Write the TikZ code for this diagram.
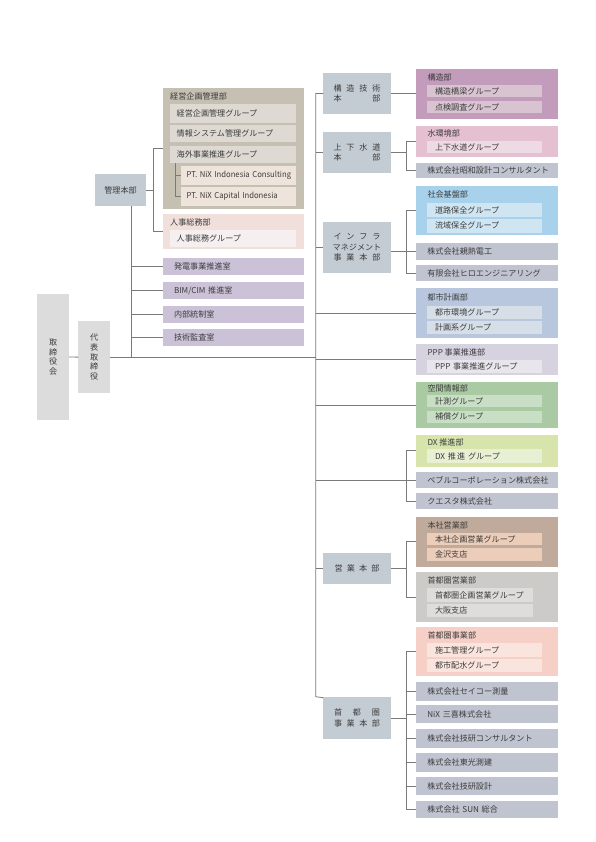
\documentclass[tikz,border=0pt]{standalone}
\usepackage{fontspec}
\setmainfont{Noto Sans CJK JP}
\usepackage{graphicx}
\definecolor{txtc}{HTML}{3C3C3C}
\definecolor{lnc}{HTML}{7A7A7A}
\definecolor{boardc}{HTML}{DCDCDC}
\definecolor{hqc}{HTML}{C3CCD3}
\definecolor{tanc}{HTML}{C6C0B3}
\definecolor{tanin}{HTML}{DEDAD3}
\definecolor{creamc}{HTML}{EFE4DB}
\definecolor{pinkc}{HTML}{F1DFDB}
\definecolor{pinkin}{HTML}{F5F0EF}
\definecolor{roomc}{HTML}{CCC2D8}
\definecolor{mauvec}{HTML}{C29CBA}
\definecolor{mauvein}{HTML}{D8C4D0}
\definecolor{rosec}{HTML}{E4C0D0}
\definecolor{rosein}{HTML}{EEDAE3}
\definecolor{compc}{HTML}{C0C3D0}
\definecolor{skyc}{HTML}{A8D2EB}
\definecolor{skyin}{HTML}{CFE5F1}
\definecolor{steelc}{HTML}{B8C7DD}
\definecolor{steelin}{HTML}{D6DEE8}
\definecolor{lavc}{HTML}{D7D2DF}
\definecolor{lavin}{HTML}{E8E5ED}
\definecolor{greenc}{HTML}{AACAA3}
\definecolor{greenin}{HTML}{C9DFC5}
\definecolor{limec}{HTML}{D7E5AD}
\definecolor{limein}{HTML}{E8F0D3}
\definecolor{brownc}{HTML}{C0AA9B}
\definecolor{peachc}{HTML}{ECCDB9}
\definecolor{greyc}{HTML}{CCCBC7}
\definecolor{greyin}{HTML}{DEDDDB}
\definecolor{salmonc}{HTML}{F6D0C7}
\definecolor{salmonin}{HTML}{F9E5DE}

\begin{document}
\begin{tikzpicture}[x=1pt,y=-1pt,font=\fontsize{8.1}{10}\selectfont,text=txtc,
  base/.style={anchor=north west,inner sep=0pt,outer sep=0pt},
  board/.style={base,fill=boardc,minimum width=31.7pt,align=center,font=\fontsize{8.1}{9.6}\selectfont},
  hq/.style={base,fill=hqc,minimum width=67.4pt,align=center,font=\fontsize{8.1}{10.5}\selectfont},
  dept/.style={base,fill=#1,minimum width=141.7pt},
  ttl/.style={anchor=west,inner sep=0pt},
  grp/.style={base,fill=#1,minimum width=114.4pt,minimum height=13pt,text width=99pt,inner xsep=7.7pt,align=left},
  lgrp/.style={base,fill=#1,minimum width=126pt,minimum height=17.5pt,text width=112.6pt,inner xsep=6.7pt,align=left},
  ptbox/.style={base,fill=creamc,minimum width=115.3pt,minimum height=18.8pt,text width=103.3pt,inner xsep=6pt,align=left},
  comp/.style={base,fill=#1,minimum width=141.7pt,minimum height=17pt,text width=119pt,inner xsep=11.3pt,align=left},
  comp/.default=compc,
  conn/.style={draw=lnc,line width=0.8pt}]
\useasboundingbox (0,0) rectangle (595,842);

% board and management
\node[board,minimum height=126pt] (torishimari) at (37.3,294) {取\\締\\役\\会};
\node[board,minimum height=72.3pt] (daihyo) at (78.3,321) {代\\表\\取\\締\\役};
\node[hq,minimum width=51pt,minimum height=31.7pt] (kanri) at (95,174.3) {管理本部};

\node[dept=tanc,minimum width=141.3pt,minimum height=121pt] (keiei) at (162.7,88.3) {};
\node[ttl] (keieiT) at (170,96.3) {経営企画管理部};
\node[lgrp=tanin,minimum height=18.4pt] (keiei1) at (170,104.3) {経営企画管理グループ};
\node[lgrp=tanin] (keiei2) at (170,125) {情報システム管理グループ};
\node[lgrp=tanin,minimum height=17pt] (keiei3) at (170,145.7) {海外事業推進グループ};
\node[ptbox] (pt1) at (180.7,166) {\scalebox{0.95}[1]{PT. NiX Indonesia Consulting}};
\node[ptbox] (pt2) at (180.7,187.3) {\scalebox{0.95}[1]{PT. NiX Capital Indonesia}};

\node[dept=pinkc,minimum width=141.3pt,minimum height=35.3pt] (jinji) at (162.7,214) {};
\node[ttl] (jinjiT) at (170,222) {人事総務部};
\node[lgrp=pinkin,minimum height=16.7pt] (jinji1) at (170,230) {人事総務グループ};

\node[comp=roomc,minimum width=141.3pt] (hatsuden) at (162.7,258.3) {発電事業推進室};
\node[comp=roomc,minimum width=141.3pt] (bimcim) at (162.7,282.3) {BIM/CIM 推進室};
\node[comp=roomc,minimum width=141.3pt] (naibu) at (162.7,306) {内部統制室};
\node[comp=roomc,minimum width=141.3pt] (kansa) at (162.7,329.3) {技術監査室};

% headquarters
\node[hq,minimum height=41.6pt] (kozoHQ) at (323.3,72.7) {\makebox[47pt]{構\hfill 造\hfill 技\hfill 術}\\\makebox[47pt]{本\hfill 部}};
\node[hq,minimum height=41.6pt] (josuiHQ) at (323.3,131.7) {\makebox[47pt]{上\hfill 下\hfill 水\hfill 道}\\\makebox[47pt]{本\hfill 部}};
\node[hq,minimum height=51pt] (infraHQ) at (323.3,221.7) {\makebox[47pt]{イ\hfill ン\hfill フ\hfill ラ}\\マネジメント\\\makebox[47pt]{事\hfill 業\hfill 本\hfill 部}};
\node[hq,minimum height=31pt] (eigyoHQ) at (323.3,553.3) {\makebox[45pt]{営\hfill 業\hfill 本\hfill 部}};
\node[hq,minimum height=42.6pt] (shutoHQ) at (323.3,696.7) {\makebox[46pt]{首\hfill 都\hfill 圏}\\\makebox[46pt]{事\hfill 業\hfill 本\hfill 部}};

% departments and companies
\node[dept=mauvec,minimum height=50pt] (kozo) at (416,69.3) {};
\node[ttl] (kozoT) at (427.3,77.2) {構造部};
\node[grp=mauvein,minimum height=12.3pt] (kozo1) at (427.3,85) {構造橋梁グループ};
\node[grp=mauvein,minimum height=12.3pt] (kozo2) at (427.3,101) {点検調査グループ};

\node[dept=rosec,minimum height=31pt] (mizu) at (416,125.7) {};
\node[ttl] (mizuT) at (427.3,133.2) {水環境部};
\node[grp=rosein,minimum height=12.6pt] (mizu1) at (427.3,140.7) {上下水道グループ};
\node[comp,minimum height=14.6pt] (showa) at (416,163.3) {株式会社昭和設計コンサルタント};

\node[dept=skyc,minimum height=49pt] (shakai) at (416,186) {};
\node[ttl] (shakaiT) at (427.3,194.7) {社会基盤部};
\node[grp=skyin,minimum height=13.4pt] (shakai1) at (427.3,203.3) {道路保全グループ};
\node[grp=skyin,minimum height=13.7pt] (shakai2) at (427.3,219) {流域保全グループ};
\node[comp,minimum height=16.5pt] (shinnetsu) at (416,243) {株式会社親熱電工};
\node[comp,minimum height=16pt] (hiro) at (416,265) {有限会社ヒロエンジニアリング};

\node[dept=steelc,minimum height=49.4pt] (toshi) at (416,288.3) {};
\node[ttl] (toshiT) at (427.3,297.2) {都市計画部};
\node[grp=steelin,minimum height=13.3pt] (toshi1) at (427.3,306) {都市環境グループ};
\node[grp=steelin,minimum height=13.3pt] (toshi2) at (427.3,321) {計画系グループ};

\node[dept=lavc,minimum height=30.7pt] (ppp) at (416,344.3) {};
\node[ttl] (pppT) at (427.3,352.3) {PPP 事業推進部};
\node[grp=lavin,minimum height=12.5pt] (ppp1) at (427.3,360) {PPP 事業推進グループ};

\node[dept=greenc,minimum height=46.6pt] (kukan) at (416,381.7) {};
\node[ttl] (kukanT) at (427.3,388.3) {空間情報部};
\node[grp=greenin,minimum height=12.3pt] (kukan1) at (427.3,395) {計測グループ};
\node[grp=greenin,minimum height=12.3pt] (kukan2) at (427.3,410.7) {補償グループ};

\node[dept=limec,minimum height=31.7pt] (dx) at (416,435) {};
\node[ttl] (dxT) at (427.3,442.2) {DX 推進部};
\node[grp=limein,minimum height=13.4pt] (dx1) at (427.3,449.3) {DX 推\,進 グループ};
\node[comp,minimum height=16.6pt] (pebble) at (416,471.7) {ペブルコーポレーション株式会社};
\node[comp,minimum height=16pt] (questa) at (416,493.3) {クエスタ株式会社};

\node[dept=brownc,minimum height=50pt] (honsha) at (416,516.7) {};
\node[ttl] (honshaT) at (427.3,525) {本社営業部};
\node[grp=peachc,minimum height=11.7pt] (honsha1) at (427.3,533.3) {本社企画営業グループ};
\node[grp=peachc,minimum height=12.7pt] (honsha2) at (427.3,548.3) {金沢支店};

\node[dept=greyc,minimum height=49.4pt] (shutoE) at (416,572.3) {};
\node[ttl] (shutoET) at (427.3,580.3) {首都圏営業部};
\node[grp=greyin,minimum width=105.4pt,text width=90pt,minimum height=13.4pt] (shutoE1) at (427.3,588.3) {首都圏企画営業グループ};
\node[grp=greyin,minimum width=105.4pt,text width=90pt,minimum height=12.4pt] (shutoE2) at (427.3,604.3) {大阪支店};

\node[dept=salmonc,minimum height=49pt] (shutoJ) at (416,626.7) {};
\node[ttl] (shutoJT) at (427.3,635) {首都圏事業部};
\node[grp=salmonin,minimum height=13.4pt] (shutoJ1) at (427.3,643.3) {施工管理グループ};
\node[grp=salmonin,minimum height=13.4pt] (shutoJ2) at (427.3,659) {都市配水グループ};
\node[comp,minimum height=19pt] (seiko) at (416,681.7) {株式会社セイコー測量};
\node[comp,minimum height=18.3pt] (nix) at (416,705) {NiX 三喜株式会社};
\node[comp,minimum height=19pt] (giken) at (416,729.3) {株式会社技研コンサルタント};
\node[comp,minimum height=18.4pt] (toko) at (416,753.3) {株式会社東光測建};
\node[comp,minimum height=17.7pt] (gikensekkei) at (416,777.3) {株式会社技研設計};
\node[comp,minimum height=17.6pt] (sun) at (416,800.7) {株式会社 SUN 総合};

% connectors
\coordinate (kv) at (131.7,0);
\coordinate (kb) at (153.3,0);
\coordinate (ptb) at (175.7,0);
\coordinate (tr) at (315.7,0);
\coordinate (rb) at (406.7,0);

\draw[conn] (torishimari.east) -- (daihyo.west);
\draw[conn] (daihyo.east) -- (daihyo.east -| tr);
\draw[conn] (kanri.south -| kv) -- (kv |- daihyo.east);
\foreach \r in {hatsuden,bimcim,naibu,kansa} \draw[conn] (\r.west -| kv) -- (\r.west);
\draw[conn] (kanri.east) -- (kanri.east -| kb);
\draw[conn] (keiei.west) -| (kanri.east -| kb) |- (jinji.west);
\draw[conn] (keiei3.south -| ptb) |- (pt2.west);
\draw[conn] (pt1.west -| ptb) -- (pt1.west);

\draw[conn] (kozoHQ.west) -| (tr |- shutoHQ.north) -- ([yshift=-1pt]shutoHQ.north west);
\foreach \r in {josuiHQ,infraHQ,toshi,ppp,kukan,eigyoHQ} \draw[conn] (\r.west -| tr) -- (\r.west);
\draw[conn] (pebble.west -| tr) -- (pebble.west);

\draw[conn] (kozoHQ.east) -- (kozoHQ.east -| kozo.west);
\draw[conn] (josuiHQ.east) -- (josuiHQ.east -| rb);
\draw[conn] (mizu.west) -| (rb |- showa.west) -- (showa.west);
\draw[conn] (shinnetsu.west -| infraHQ.east) -- (shinnetsu.west);
\draw[conn] (shakai.west) -| (rb |- hiro.west) -- (hiro.west);
\draw[conn] (dx.west) -| (rb |- questa.west) -- (questa.west);
\draw[conn] (eigyoHQ.east) -- (eigyoHQ.east -| rb);
\draw[conn] (honsha.west) -| (rb |- shutoE.west) -- (shutoE.west);
\draw[conn] (shutoHQ.east) -- (shutoHQ.east -| rb);
\draw[conn] (shutoJ.west) -| (rb |- sun.west) -- (sun.west);
\foreach \r in {seiko,nix,giken,toko,gikensekkei} \draw[conn] (\r.west -| rb) -- (\r.west);
\end{tikzpicture}
\end{document}
